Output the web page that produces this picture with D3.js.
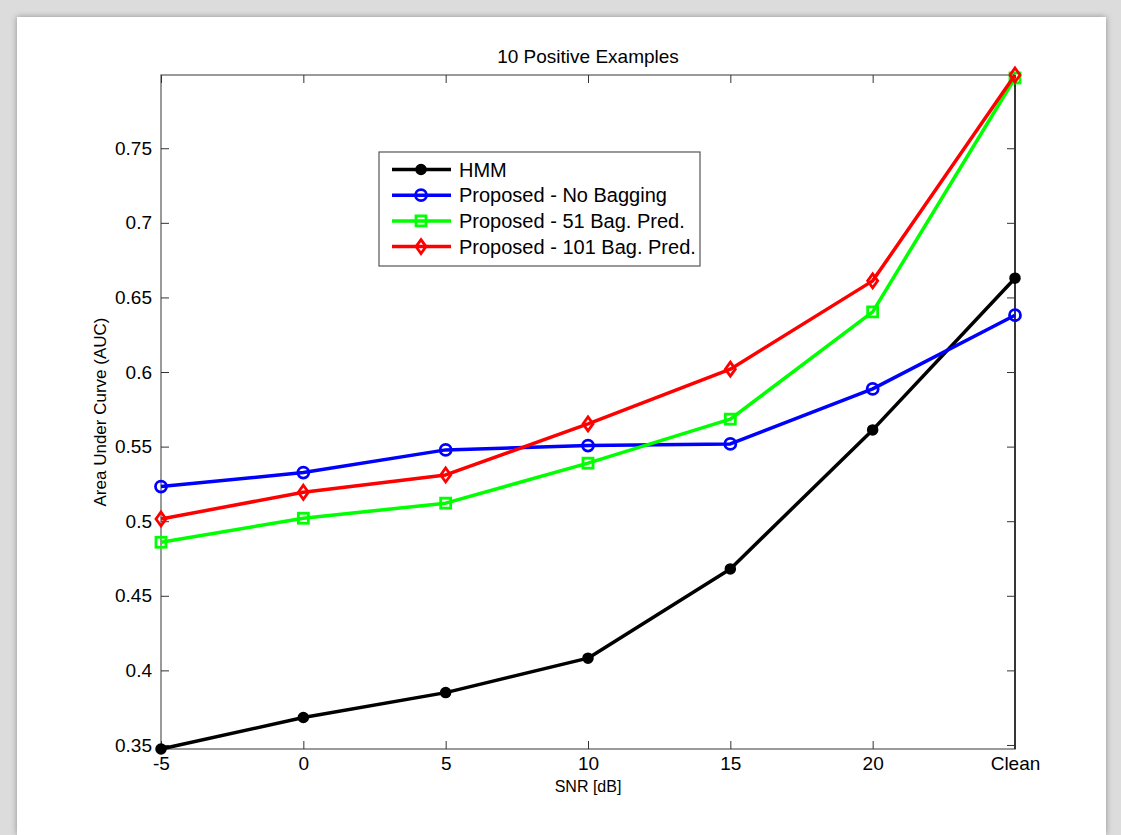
<!DOCTYPE html>
<html>
<head>
<meta charset="utf-8">
<script src="https://cdn.jsdelivr.net/npm/d3@7"></script>
<style>
  html, body { margin: 0; padding: 0; background: #ffffff; }
  svg { display: block; }
  text { font-family: "Liberation Sans", Arial, sans-serif; fill: #000; }
</style>
</head>
<body>
<svg id="chart" width="1121" height="835"></svg>
<script>
// SNR conditions along the x axis
const snrLabels = ["-5", "0", "5", "10", "15", "20", "Clean"];

// Area under curve for each method at each SNR condition
const hmm        = [0.3473, 0.3684, 0.3851, 0.4082, 0.4680, 0.5612, 0.6629];
const noBagging  = [0.5232, 0.5326, 0.5478, 0.5507, 0.5518, 0.5887, 0.6381];
const bag51      = [0.4859, 0.5020, 0.5121, 0.5389, 0.5684, 0.6403, 0.7971];
const bag101     = [0.5015, 0.5194, 0.5310, 0.5652, 0.6019, 0.6611, 0.7991];

const seriesNames = ["HMM", "Proposed - No Bagging", "Proposed - 51 Bag. Pred.", "Proposed - 101 Bag. Pred."];
const yTicks = [0.35, 0.4, 0.45, 0.5, 0.55, 0.6, 0.65, 0.7, 0.75];

const series = [
  { name: seriesNames[0], values: hmm,       color: "#000000", marker: "dot" },
  { name: seriesNames[1], values: noBagging, color: "#0000ff", marker: "circle" },
  { name: seriesNames[2], values: bag51,     color: "#00ff00", marker: "square" },
  { name: seriesNames[3], values: bag101,    color: "#ff0000", marker: "diamond" }
];

const svg = d3.select("#chart");
const W = 1121, H = 835;

// Figure frame: grey surround with a white sheet
const defs = svg.append("defs");
const sh = defs.append("filter").attr("id", "sheetShadow")
  .attr("x", "-5%").attr("y", "-5%").attr("width", "110%").attr("height", "110%");
sh.append("feGaussianBlur").attr("in", "SourceAlpha").attr("stdDeviation", 3).attr("result", "b");
sh.append("feFlood").attr("flood-color", "#000").attr("flood-opacity", 0.35);
sh.append("feComposite").attr("in2", "b").attr("operator", "in");
const mg = sh.append("feMerge");
mg.append("feMergeNode");
mg.append("feMergeNode").attr("in", "SourceGraphic");

svg.append("rect").attr("x", 0).attr("y", 0).attr("width", W).attr("height", H).attr("fill", "#dcdcdc");
svg.append("rect").attr("x", 17).attr("y", 17).attr("width", W - 32).attr("height", H - 17)
  .attr("fill", "#ffffff").attr("filter", "url(#sheetShadow)");

// Plot area
const pLeft = 161, pTop = 75, pRight = 1015, pBottom = 749;

const x = d3.scalePoint().domain(snrLabels).range([pLeft, pRight]);
const allVals = [].concat(hmm, noBagging, bag51, bag101);
const y = d3.scaleLinear().domain(d3.extent(allVals)).range([pBottom, pTop]);

const tickLen = 8;

// Axis box
const axisG = svg.append("g");
axisG.append("rect").attr("x", pLeft).attr("y", pTop)
  .attr("width", pRight - pLeft).attr("height", pBottom - pTop)
  .attr("fill", "none").attr("stroke", "#7a7a7a").attr("stroke-width", 1.5);
axisG.append("line").attr("x1", pRight).attr("x2", pRight).attr("y1", pTop).attr("y2", pBottom)
  .attr("stroke", "#000").attr("stroke-width", 1.3);

// Bottom axis: ticks inward, labels below
const xAxis = d3.axisBottom(x).tickSizeInner(-tickLen).tickSizeOuter(0).tickPadding(8);
const gx = svg.append("g").attr("transform", `translate(0,${pBottom})`).call(xAxis);
gx.select(".domain").remove();
gx.selectAll(".tick line").attr("stroke", "#333").attr("stroke-width", 1);
gx.selectAll(".tick text").attr("font-size", 19).attr("font-family", "Liberation Sans, Arial, sans-serif").attr("fill", "#000");

// Top axis ticks (no labels)
const gxt = svg.append("g").attr("transform", `translate(0,${pTop})`)
  .call(d3.axisTop(x).tickSizeInner(-tickLen).tickSizeOuter(0).tickFormat(""));
gxt.select(".domain").remove();
gxt.selectAll(".tick line").attr("stroke", "#333");

// Left axis
const yAxis = d3.axisLeft(y).tickValues(yTicks).tickFormat(d3.format("~g"))
  .tickSizeInner(-tickLen).tickSizeOuter(0).tickPadding(9);
const gy = svg.append("g").attr("transform", `translate(${pLeft},0)`).call(yAxis);
gy.select(".domain").remove();
gy.selectAll(".tick line").attr("stroke", "#333");
gy.selectAll(".tick text").attr("font-size", 19).attr("font-family", "Liberation Sans, Arial, sans-serif").attr("fill", "#000");

// Right axis ticks (no labels)
const gyr = svg.append("g").attr("transform", `translate(${pRight},0)`)
  .call(d3.axisRight(y).tickValues(yTicks).tickSizeInner(-tickLen).tickSizeOuter(0).tickFormat(""));
gyr.select(".domain").remove();
gyr.selectAll(".tick line").attr("stroke", "#333");

// Title and axis labels
svg.append("text").attr("x", (pLeft + pRight) / 2).attr("y", 63)
  .attr("text-anchor", "middle").attr("font-size", 19).text("10 Positive Examples");
svg.append("text").attr("x", (pLeft + pRight) / 2).attr("y", 792)
  .attr("text-anchor", "middle").attr("font-size", 16).text("SNR [dB]");
svg.append("text").attr("transform", `translate(106,${(pTop + pBottom) / 2}) rotate(-90)`)
  .attr("text-anchor", "middle").attr("font-size", 17).text("Area Under Curve (AUC)");

// Marker drawing
function drawMarker(g, type, color) {
  if (type === "dot") {
    g.append("circle").attr("r", 5).attr("fill", color).attr("stroke", color).attr("stroke-width", 1.5);
  } else if (type === "circle") {
    g.append("circle").attr("r", 5.5).attr("fill", "none").attr("stroke", color).attr("stroke-width", 2.8);
  } else if (type === "square") {
    g.append("rect").attr("x", -5).attr("y", -5).attr("width", 10).attr("height", 10)
      .attr("fill", "none").attr("stroke", color).attr("stroke-width", 2.8);
  } else if (type === "diamond") {
    g.append("path").attr("d", "M0,-7 L5,0 L0,7 L-5,0 Z")
      .attr("fill", "none").attr("stroke", color).attr("stroke-width", 2.8);
  }
}

const line = d3.line().x((d, i) => x(snrLabels[i])).y(d => y(d));

const plot = svg.append("g");
series.forEach(s => {
  plot.append("path").datum(s.values).attr("d", line)
    .attr("fill", "none").attr("stroke", s.color).attr("stroke-width", 3.5)
    .attr("stroke-linejoin", "round");
  s.values.forEach((v, i) => {
    const g = plot.append("g").attr("transform", `translate(${x(snrLabels[i])},${y(v)})`);
    drawMarker(g, s.marker, s.color);
  });
});

// Legend
const lg = svg.append("g");
lg.append("rect").attr("x", 379).attr("y", 152).attr("width", 321).attr("height", 114)
  .attr("fill", "#fff").attr("stroke", "#555").attr("stroke-width", 1.2);
series.forEach((s, i) => {
  const yy = 169.5 + i * 25.7;
  lg.append("line").attr("x1", 392).attr("x2", 451).attr("y1", yy).attr("y2", yy)
    .attr("stroke", s.color).attr("stroke-width", 3.5);
  const g = lg.append("g").attr("transform", `translate(421,${yy})`);
  drawMarker(g, s.marker, s.color);
  lg.append("text").attr("x", 459).attr("y", yy).attr("dy", "0.36em")
    .attr("font-size", 20).text(s.name);
});
</script>
</body>
</html>
